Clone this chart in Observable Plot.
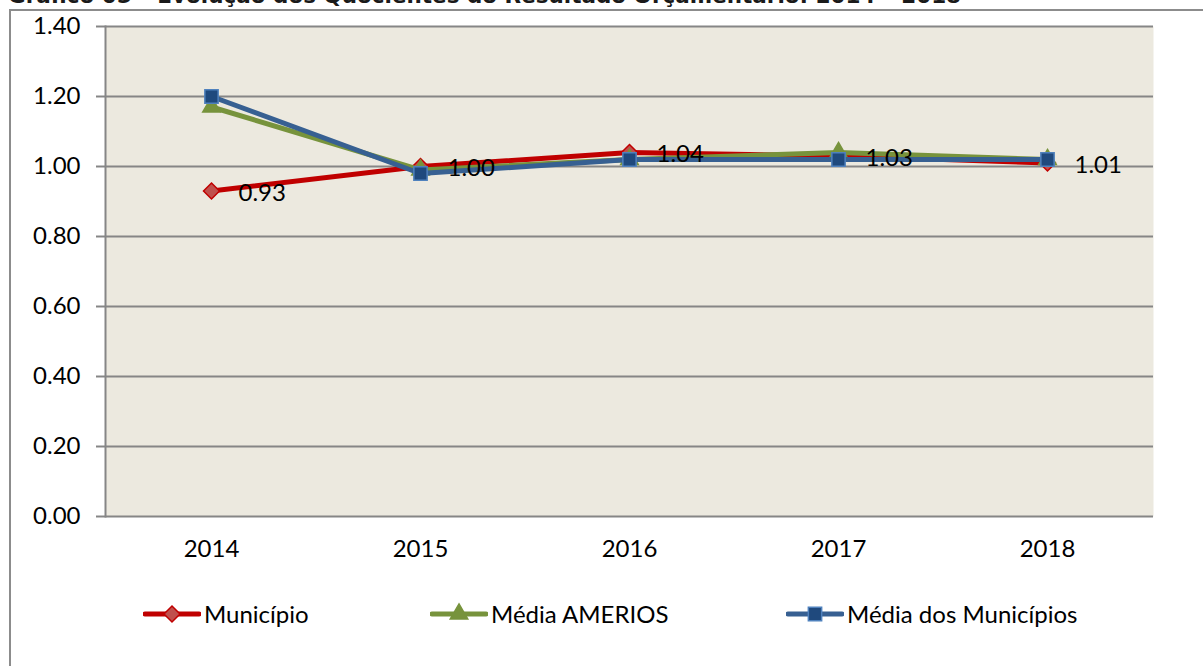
<!DOCTYPE html>
<html><head><meta charset="utf-8">
<script src="https://cdn.jsdelivr.net/npm/d3@7"></script>
<script src="https://cdn.jsdelivr.net/npm/@observablehq/plot@0.6"></script>
<style>
body{margin:0;background:#fff;}
#wrap{position:relative;width:1203px;height:666px;overflow:hidden;background:#fff;}
#frame{position:absolute;left:9px;top:9px;width:1400px;height:900px;border:2px solid #8c8c8c;box-sizing:border-box;}
#title{position:absolute;left:8px;top:-17px;font:bold 21.5px "DejaVu Sans",sans-serif;white-space:nowrap;color:#1a1a1a;}
#chart{position:absolute;left:0;top:0;}
.leg{position:absolute;top:599px;display:flex;align-items:center;font:24px Lato,sans-serif;color:#000;}
.leg svg{display:block;margin-right:3px;}
</style></head>
<body>
<div id="wrap">
  <div id="title">Gráfico 05 – Evolução dos Quocientes do Resultado Orçamentário: 2014 – 2018</div>
  <div id="frame"></div>
  <div id="chart"></div>
</div>
<script>
const years = ["2014","2015","2016","2017","2018"];
const municipio = [0.93, 1.00, 1.04, 1.03, 1.01];
const amerios = [1.17, 0.99, 1.02, 1.04, 1.02];
const mediaMunicipios = [1.20, 0.98, 1.02, 1.02, 1.02];
const seriesNames = ["Município", "Média AMERIOS", "Média dos Municípios"];
const yTicks = [0, 0.2, 0.4, 0.6, 0.8, 1.0, 1.2, 1.4];

const styles = [
  {line:"#C00000", fill:"#C0504D", stroke:"#C00000", symbol:"diamond2", r:7.2},
  {line:"#77933C", fill:"#77933C", stroke:"#77933C", symbol:"triangle", r:6.5},
  {line:"#376092", fill:"#1F497D", stroke:"#4F81BD", symbol:"square", r:7.5}
];
const values = [municipio, amerios, mediaMunicipios];
const rows = values.map((vals, s) => years.map((yr, i) => ({year: yr, value: vals[i], series: seriesNames[s]})));

const marks = [
  Plot.frame({fill:"#ECE9DF", stroke:null}),
  Plot.gridY(yTicks, {stroke:"#868686", strokeOpacity:1, strokeWidth:2}),
  Plot.frame({anchor:"left", stroke:"#868686", strokeWidth:2}),
  Plot.axisY({ticks:yTicks, tickFormat:d=>d.toFixed(2), tickSize:9, tickPadding:16, label:null, stroke:"#868686", strokeWidth:2, fill:"#000", fontSize:24}),
  Plot.axisX({tickSize:0, tickPadding:23, label:null, fill:"#000", fontSize:24})
];
rows.forEach((data, s) => {
  const st = styles[s];
  marks.push(Plot.line(data, {x:"year", y:"value", stroke:st.line, strokeWidth:5, curve:"linear"}));
  marks.push(Plot.dot(data, {x:"year", y:"value", symbol:()=>st.symbol, fill:st.fill, stroke:st.stroke, strokeWidth:1.5, r:st.r}));
});
marks.push(Plot.text(rows[0], {x:"year", y:"value", text:d=>d.value.toFixed(2), dx:27, dy:2, textAnchor:"start", fontSize:24, fill:"#000"}));

const chart = Plot.plot({
  width:1203, height:666,
  marginLeft:105, marginRight:50, marginTop:26, marginBottom:150,
  style:{fontFamily:"Lato, sans-serif", fontSize:"24px", background:"transparent", color:"#000"},
  x:{type:"point", domain:years, padding:0.5},
  y:{domain:[0,1.4]},
  symbol:{type:"identity"},
  marks
});
document.getElementById("chart").appendChild(chart);

// legend (HTML, built from the series names and styles)
const legLefts = [143, 430, 786];
const wrap = document.getElementById("wrap");
seriesNames.forEach((name, s) => {
  const st = styles[s];
  const div = document.createElement("div");
  div.className = "leg";
  div.style.left = legLefts[s] + "px";
  const svg = d3.create("svg").attr("width", 58).attr("height", 24);
  svg.append("line").attr("x1",2).attr("x2",56).attr("y1",12).attr("y2",12)
     .attr("stroke", st.line).attr("stroke-width",5).attr("stroke-linecap","round");
  const sym = {diamond2:d3.symbolDiamond2, triangle:d3.symbolTriangle, square:d3.symbolSquare}[st.symbol];
  svg.append("path").attr("transform","translate(29,12)")
     .attr("d", d3.symbol(sym, Math.PI*st.r*st.r)())
     .attr("fill", st.fill).attr("stroke", st.stroke).attr("stroke-width",1.5);
  div.appendChild(svg.node());
  const span = document.createElement("span");
  span.textContent = name;
  div.appendChild(span);
  wrap.appendChild(div);
});
</script>
</body></html>
